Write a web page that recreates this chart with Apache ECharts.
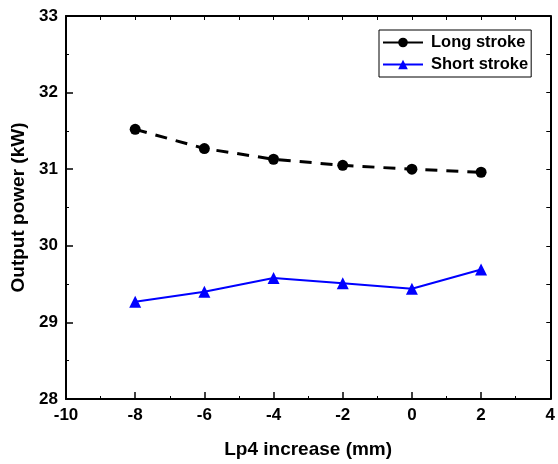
<!DOCTYPE html>
<html>
<head>
<meta charset="utf-8">
<script src="https://cdn.jsdelivr.net/npm/echarts@6/dist/echarts.min.js"></script>
<style>
  html, body { margin: 0; padding: 0; background: #fff; }
  #chart { width: 558px; height: 464px; }
</style>
</head>
<body>
<div id="chart"></div>
<script>
// Lp4 increase (mm) on the x axis
const lp4Increase = [-8, -6, -4, -2, 0, 2];
// Output power (kW) for each stroke configuration
const longStroke = [31.52, 31.27, 31.13, 31.05, 31.00, 30.96];
const shortStroke = [29.27, 29.40, 29.58, 29.51, 29.44, 29.69];

const seriesNames = ['Long stroke', 'Short stroke'];
const xTitle = 'Lp4 increase (mm)';
const yTitle = 'Output power (kW)';

const FONT = '"Liberation Sans", Arial, sans-serif';

const pairs = (xs, ys) => xs.map((x, i) => [x, ys[i]]);

const chart = echarts.init(document.getElementById('chart'), null, { renderer: 'canvas' });

// Top and right frame edges: plain lines with small inward ticks
const frameAxis = {
  axisLine: { show: true, onZero: false, lineStyle: { color: '#000', width: 2 } },
  axisLabel: { show: false },
  splitLine: { show: false },
  axisTick: { show: true, inside: true, length: 4, lineStyle: { color: '#000', width: 1 } }
};

chart.setOption({
  animation: false,
  backgroundColor: '#fff',
  grid: { left: 66, right: 4, top: 16, bottom: 65, containLabel: false },
  legend: {
    orient: 'vertical',
    left: 379,
    top: 30,
    padding: [4, 3, 4, 3],
    itemGap: 5,
    itemWidth: 40,
    itemHeight: 12,
    borderColor: '#000',
    borderWidth: 1,
    backgroundColor: '#fff',
    textStyle: { fontFamily: FONT, fontWeight: 'bold', fontSize: 16.5, color: '#000', lineHeight: 16, padding: [0, 0, 0, 3] },
    data: [
      { name: seriesNames[0], lineStyle: { type: 'solid', width: 2 } },
      { name: seriesNames[1], lineStyle: { type: 'solid', width: 2 } }
    ]
  },
  xAxis: [
    {
      type: 'value', min: -10, max: 4, interval: 2,
      name: xTitle, nameLocation: 'middle', nameGap: 41,
      nameTextStyle: { fontFamily: FONT, fontWeight: 'bold', fontSize: 19, color: '#000' },
      axisLine: { show: true, onZero: false, lineStyle: { color: '#000', width: 2 } },
      axisTick: { show: true, inside: true, length: 7, lineStyle: { color: '#000', width: 1.5 } },
      minorTick: { show: true, splitNumber: 2, length: 3, lineStyle: { color: '#000', width: 1 } },
      axisLabel: { fontFamily: FONT, fontWeight: 'bold', fontSize: 17, color: '#000', margin: 8 },
      splitLine: { show: false }
    },
    Object.assign({ type: 'value', position: 'top', min: -10, max: 4, interval: 1 }, frameAxis)
  ],
  yAxis: [
    {
      type: 'value', min: 28, max: 33, interval: 1,
      name: yTitle, nameLocation: 'middle', nameGap: 35, nameRotate: 90,
      nameTextStyle: { fontFamily: FONT, fontWeight: 'bold', fontSize: 19, color: '#000' },
      axisLine: { show: true, onZero: false, lineStyle: { color: '#000', width: 2 } },
      axisTick: { show: true, inside: true, length: 7, lineStyle: { color: '#000', width: 1.5 } },
      minorTick: { show: true, splitNumber: 2, length: 3, lineStyle: { color: '#000', width: 1 } },
      axisLabel: { fontFamily: FONT, fontWeight: 'bold', fontSize: 17, color: '#000', margin: 8 },
      splitLine: { show: false }
    },
    Object.assign({ type: 'value', position: 'right', min: 28, max: 33, interval: 0.5 }, frameAxis)
  ],
  series: [
    {
      name: seriesNames[0],
      type: 'line',
      data: pairs(lp4Increase, longStroke),
      symbol: 'circle',
      symbolSize: 11,
      itemStyle: { color: '#000' },
      lineStyle: { color: '#000', width: 3, type: [12, 9] },
      z: 3
    },
    {
      name: seriesNames[1],
      type: 'line',
      data: pairs(lp4Increase, shortStroke),
      symbol: 'triangle',
      symbolSize: 12,
      itemStyle: { color: '#0000ff' },
      lineStyle: { color: '#0000ff', width: 2 },
      z: 3
    }
  ]
});
</script>
</body>
</html>
